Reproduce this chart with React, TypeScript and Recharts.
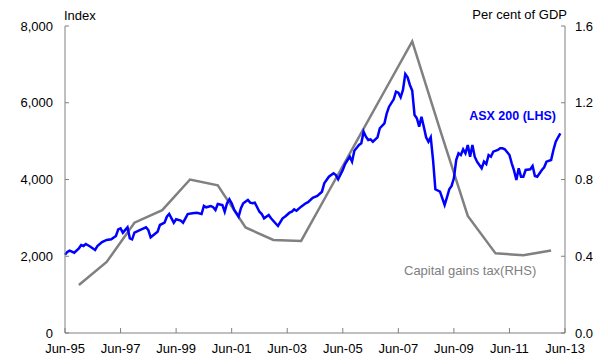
import { LineChart, Line, XAxis, YAxis } from "recharts";

// months counted from Jun-95 (0) to Jun-13 (216)
const asxMonth = [
  0, 1, 2, 4, 6, 7, 8, 9, 11, 13, 14, 16, 18, 20, 22, 23, 24, 25, 27, 28, 29, 30,
  33, 35, 36, 37, 40, 41, 43, 44, 45, 47, 48, 50, 51, 53, 55, 57, 59, 60, 61, 63,
  64, 65, 66, 68, 69, 70, 71, 72, 73, 75, 76, 77, 79, 80, 81, 82, 84, 85, 86, 88,
  89, 92, 94, 95, 97, 98, 99, 100, 102, 104, 105, 107, 109, 111, 112, 114, 116,
  117, 118, 120, 121, 123, 124, 125, 127, 128, 129, 130, 131, 132, 133, 135, 136,
  138, 139, 140, 142, 143, 144, 145, 146, 147, 148, 149, 150, 151, 152, 153, 154,
  155, 156, 157, 158, 159, 160, 162, 164, 165, 166, 167, 168, 169, 170, 171, 172,
  173, 174, 175, 176, 177, 178, 180, 181, 182, 183, 184, 185, 187, 188, 189, 190,
  192, 193, 194, 195, 196, 197, 198, 199, 201, 202, 203, 204, 206, 207, 208, 210,
  211, 212, 213, 214,
];
const asxValue = [
  2040, 2110, 2145, 2093, 2207, 2293, 2267, 2319, 2249, 2163, 2267, 2371, 2424,
  2441, 2528, 2702, 2728, 2614, 2754, 2467, 2441, 2614, 2702, 2754, 2684, 2494,
  2640, 2814, 2874, 3031, 3101, 2874, 2963, 2927, 2874, 3100, 3119, 3135, 3101,
  3310, 3276, 3310, 3276, 3205, 3362, 3336, 3161, 3380, 3484, 3380, 3223, 3031,
  3250, 3380, 3466, 3396, 3380, 3396, 3161, 3101, 2989, 3075, 2989, 2788, 2989,
  3031, 3135, 3161, 3223, 3187, 3292, 3380, 3410, 3520, 3570, 3682, 3901, 4073,
  4162, 4117, 4005, 4248, 4404, 4595, 4465, 4751, 4899, 4943, 5246, 5116, 5030,
  5047, 4985, 5100, 5335, 5465, 5725, 5897, 6090, 6288, 6262, 6142, 6333, 6750,
  6663, 6463, 6315, 5681, 5595, 5376, 5637, 5376, 5100, 4985, 5100, 4508, 3745,
  3682, 3336, 3536, 3745, 3831, 4031, 4508, 4683, 4639, 4787, 4683, 4899, 4595,
  4899, 4595, 4465, 4292, 4465, 4404, 4639, 4595, 4725, 4769, 4813, 4813, 4787,
  4639, 4422, 4230, 3987, 4292, 4073, 4073, 4248, 4266, 4352, 4091, 4073, 4248,
  4318, 4465, 4508, 4769, 4985, 5100, 5204,
];

// capital gains tax, per cent of GDP, plotted at December of each year
const cgtMonth = [6, 18, 30, 42, 54, 66, 78, 90, 102, 114, 126, 138, 150, 162, 174, 186, 198, 210];
const cgtValue = [
  0.25, 0.37, 0.575, 0.64, 0.8, 0.77, 0.55, 0.485, 0.48, 0.74, 1.0, 1.26, 1.52,
  1.06, 0.61, 0.415, 0.405, 0.43,
];

const xTicks = [0, 24, 48, 72, 96, 120, 144, 168, 192, 216];
const leftTicks = [0, 2000, 4000, 6000, 8000];
const rightTicks = [0, 0.4, 0.8, 1.2, 1.6];

const asxData = asxMonth.map((m, i) => ({ m, asx: asxValue[i] }));
const cgtData = cgtMonth.map((m, i) => ({ m, cgt: cgtValue[i] }));

const font = "'Liberation Sans', Arial, sans-serif";
const axisGrey = "#808080";
const tickStyle = { fill: "#000", fontSize: 13, fontFamily: font };

const monthLabel = (m: number) => {
  const yr = (95 + Math.round(m / 12)) % 100;
  return "Jun-" + String(yr).padStart(2, "0");
};

export default function App() {
  return (
    <div style={{ position: "absolute", left: 0, top: 0, width: 608, height: 364, background: "#fff", fontFamily: font }}>
      <LineChart width={608} height={364} margin={{ top: 26, right: 3, bottom: 6, left: 5 }}>
        <XAxis
          dataKey="m"
          type="number"
          domain={[0, 216]}
          ticks={xTicks}
          tickFormatter={monthLabel}
          height={25}
          stroke={axisGrey}
          tickSize={-5}
          tickMargin={16}
          tick={tickStyle}
          allowDuplicatedCategory={false}
        />
        <YAxis
          yAxisId="left"
          domain={[0, 8000]}
          ticks={leftTicks}
          width={60}
          stroke={axisGrey}
          tickSize={-4}
          tickMargin={16}
          tick={tickStyle}
          tickFormatter={(v: number) => v.toLocaleString("en-US")}
        />
        <YAxis
          yAxisId="right"
          orientation="right"
          domain={[0, 1.6]}
          ticks={rightTicks}
          width={40}
          stroke={axisGrey}
          tickSize={-4}
          tickMargin={14}
          tick={tickStyle}
          tickFormatter={(v: number) => v.toFixed(1)}
        />
        <Line
          yAxisId="right"
          data={cgtData}
          dataKey="cgt"
          stroke="#808080"
          strokeWidth={2.5}
          dot={false}
          isAnimationActive={false}
        />
        <Line
          yAxisId="left"
          data={asxData}
          dataKey="asx"
          stroke="#0000ff"
          strokeWidth={2.5}
          dot={false}
          isAnimationActive={false}
        />
      </LineChart>
      <svg width={608} height={364} style={{ position: "absolute", left: 0, top: 0, pointerEvents: "none" }}>
        <text x={64} y={20} fontSize={13} fontFamily={font} fill="#000">Index</text>
        <text x={567} y={19} fontSize={13} fontFamily={font} fill="#000" textAnchor="end">Per cent of GDP</text>
        <text x={556} y={120} fontSize={12.5} fontWeight="bold" fontFamily={font} fill="#0000ff" textAnchor="end">ASX 200 (LHS)</text>
        <text x={404} y={275} fontSize={13} fontFamily={font} fill="#808080">Capital gains tax(RHS)</text>
      </svg>
    </div>
  );
}
